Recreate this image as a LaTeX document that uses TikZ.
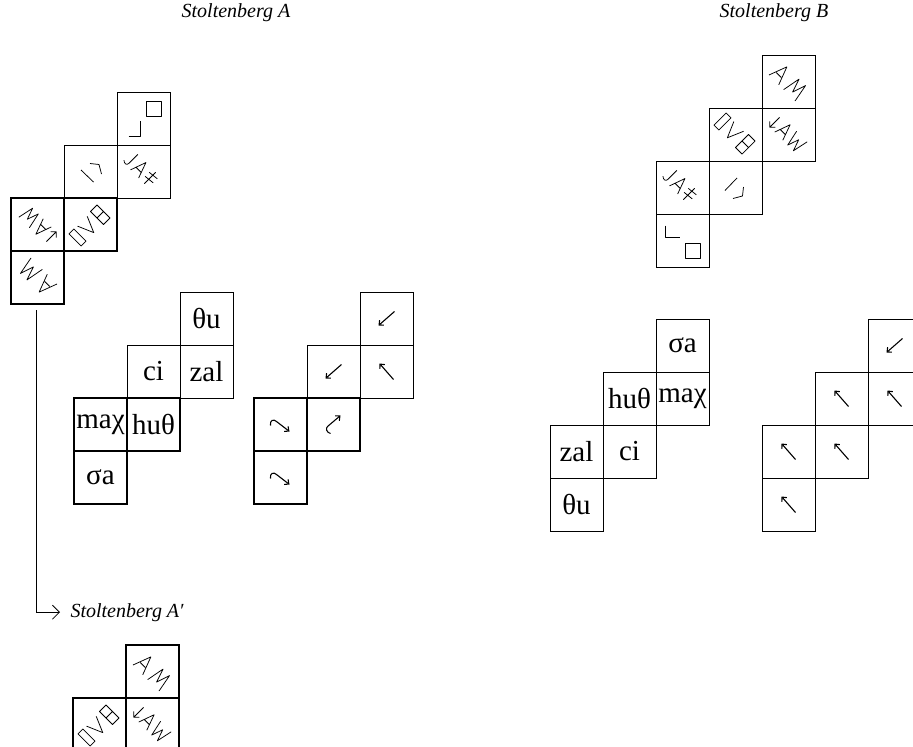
\documentclass[tikz,border=0pt]{standalone}
\usepackage{fontspec}
\setmainfont{Liberation Serif}
\usetikzlibrary{arrows.meta}

\tikzset{
  cell/.style={draw, line width=0.7pt, minimum size=53pt, inner sep=0pt,
    font=\fontsize{29}{29}\selectfont},
  boldcell/.style={cell, line width=1.6pt},
  glyph/.style={line width=0.75pt, line join=round},
  dirarrow/.style={line width=1.1pt, -{Straight Barb[length=3.5pt,width=6.5pt]}},
  title/.style={font=\itshape\fontsize{20}{20}\selectfont},
  % face inscriptions, drawn as on Stoltenberg B
  pics/thu/.style={code={
    \draw[glyph] (-17.5,-15) -- (-17.5,-3) -- (-2.5,-3);
    \draw[glyph] (2.5,3) rectangle (17.5,18);
  }},
  pics/ci/.style={code={
    \draw[glyph] (-10.5,3) -- (1.5,-9.5);
    \draw[glyph] (-2.5,11) -- (7,8.5) -- (8,-0.5);
  }},
  pics/zal/.style={code={
    \begin{scope}[rotate=-45,scale=1.15]
      \draw[glyph] (-14,-7) -- (-14,4) .. controls (-14,7) and (-17,7) .. (-19,5);
      \draw[glyph] (-9,7) -- (-4,-7) -- (1,7) (-7,2) -- (-1,2);
      \draw[glyph] (8,-7) -- (8,7) (4,-3) -- (13,-4) (4,2) -- (13,1);
    \end{scope}
  }},
  pics/huth/.style={code={
    \begin{scope}[rotate=-45,scale=1.15]
      \draw[glyph] (-19,-7.5) rectangle (-13,7.5);
      \draw[glyph] (-9,-7) -- (-3,7) -- (3,-7);
      \draw[glyph] (8,-8) rectangle (16,0) (8,0) rectangle (16,8);
    \end{scope}
  }},
  pics/mach/.style={code={
    \begin{scope}[rotate=-45,scale=1.15]
      \draw[glyph] (-16,-5) -- (-16,7) (-19.5,3.5) -- (-16,7) -- (-12.5,3.5);
      \draw[glyph] (-10,7) -- (-5,-7) -- (0,7) (-8,2) -- (-2,2);
      \draw[glyph] (3,-7) -- (6,7) -- (9.5,-3) -- (13,7) -- (16,-7);
    \end{scope}
  }},
  pics/sa/.style={code={
    \begin{scope}[rotate=-45,scale=1.15]
      \draw[glyph] (-16,8) -- (-10,-8) -- (-4,8) (-13,2) -- (-7,2);
      \draw[glyph] (2,8) -- (5,-8) -- (9,4) -- (13,-8) -- (16,8);
    \end{scope}
  }},
  % orientation arrows
  pics/nwarrow/.style={code={\draw[dirarrow] (7,8) -- (-7,-8);}},
  pics/hookse/.style={code={
    \draw[dirarrow] (-10,1) .. controls (-11,-4) and (-7,-6) .. (-4,-3) -- (9,7);}},
  pics/hookne/.style={code={
    \draw[dirarrow] (-3,9) .. controls (-7,8) and (-8,4) .. (-6,2) -- (7,-9);}},
}

\begin{document}
\begin{tikzpicture}[x=1pt,y=-1pt]
\useasboundingbox (0,0) rectangle (913,747);
\clip (0,0) rectangle (913,747);

% Titles
\node[title] (titleA) at (236,13) {Stoltenberg A};
\node[title] (titleB) at (774,13) {Stoltenberg B};

% Stoltenberg A: inscriptions
\node[cell] (aThu) at (143.5,118.5) {};
\node[cell] (aCi) at (90.5,171.5) {};
\node[cell] (aZal) at (143.5,171.5) {};
\node[boldcell] (aMach) at (37.5,224.5) {};
\node[boldcell] (aHuth) at (90.5,224.5) {};
\node[boldcell] (aSa) at (37.5,277.5) {};
\pic[rotate=90] at (aThu) {thu};
\pic[rotate=90] at (aCi) {ci};
\pic at (aZal) {zal};
\pic[rotate=180] at (aMach) {mach};
\pic[rotate=90] at (aHuth) {huth};
\pic[rotate=180] at (aSa) {sa};

% Stoltenberg A: values
\node[cell] (nAThu) at (206.5,318.5) {θu};
\node[cell] (nACi) at (153.5,371.5) {ci};
\node[cell] (nAZal) at (206.5,371.5) {zal};
\node[boldcell] (nAMach) at (100.5,424.5) {maχ};
\node[boldcell] (nAHuth) at (153.5,424.5) {huθ};
\node[boldcell] (nASa) at (100.5,477.5) {σa};

% Stoltenberg A: orientation
\node[cell] (dAThu) at (386.5,318.5) {};
\node[cell] (dACi) at (333.5,371.5) {};
\node[cell] (dAZal) at (386.5,371.5) {};
\node[boldcell] (dAMach) at (280.5,424.5) {};
\node[boldcell] (dAHuth) at (333.5,424.5) {};
\node[boldcell] (dASa) at (280.5,477.5) {};
\pic[rotate=90] at (dAThu) {nwarrow};
\pic[rotate=90] at (dACi) {nwarrow};
\pic at (dAZal) {nwarrow};
\pic at (dAMach) {hookse};
\pic at (dAHuth) {hookne};
\pic at (dASa) {hookse};

% Stoltenberg B: inscriptions
\node[cell] (bSa) at (788.5,81.5) {};
\node[cell] (bHuth) at (735.5,134.5) {};
\node[cell] (bMach) at (788.5,134.5) {};
\node[cell] (bZal) at (682.5,187.5) {};
\node[cell] (bCi) at (735.5,187.5) {};
\node[cell] (bThu) at (682.5,240.5) {};
\pic at (bSa) {sa};
\pic at (bHuth) {huth};
\pic at (bMach) {mach};
\pic at (bZal) {zal};
\pic at (bCi) {ci};
\pic at (bThu) {thu};

% Stoltenberg B: values
\node[cell] (nBSa) at (682.5,345.5) {σa};
\node[cell] (nBHuth) at (629.5,398.5) {huθ};
\node[cell] (nBMach) at (682.5,398.5) {maχ};
\node[cell] (nBZal) at (576.5,451.5) {zal};
\node[cell] (nBCi) at (629.5,451.5) {ci};
\node[cell] (nBThu) at (576.5,504.5) {θu};

% Stoltenberg B: orientation
\node[cell] (dBSa) at (894.5,345.5) {};
\node[cell] (dBHuth) at (841.5,398.5) {};
\node[cell] (dBMach) at (894.5,398.5) {};
\node[cell] (dBZal) at (788.5,451.5) {};
\node[cell] (dBCi) at (841.5,451.5) {};
\node[cell] (dBThu) at (788.5,504.5) {};
\pic[rotate=90] at (dBSa) {nwarrow};
\pic at (dBHuth) {nwarrow};
\pic at (dBMach) {nwarrow};
\pic at (dBZal) {nwarrow};
\pic at (dBCi) {nwarrow};
\pic at (dBThu) {nwarrow};

% Stoltenberg A'
\node[title, anchor=base west] (titleAp) at (67,617) {Stoltenberg A′};
\coordinate (apTail) at (36,310);
\draw[line width=0.8pt, -{Straight Barb[length=7pt,width=14pt,line width=0.8pt]}]
  (apTail) |- ([xshift=-7pt]titleAp.west);
\node[boldcell] (apSa) at (152.5,671.5) {};
\node[boldcell] (apHuth) at (99.5,724.5) {};
\node[boldcell] (apMach) at (152.5,724.5) {};
\pic at (apSa) {sa};
\pic[rotate=90] at (apHuth) {huth};
\pic at (apMach) {mach};
\end{tikzpicture}
\end{document}
